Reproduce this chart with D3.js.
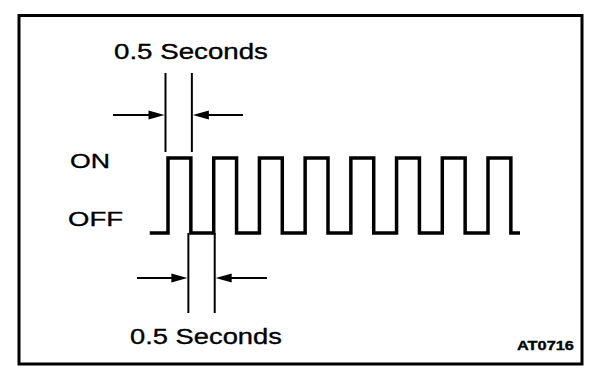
<!DOCTYPE html>
<html>
<head>
<meta charset="utf-8">
<script src="https://cdn.jsdelivr.net/npm/d3@7"></script>
<style>
    html, body { margin: 0; padding: 0; background: #fff; }
    svg text { font-family: "Liberation Sans", Arial, Helvetica, sans-serif; fill: #000; stroke: #000; stroke-width: 0.35; }
</style>
</head>
<body>
<div id="chart"></div>
<script>
// signal levels and switching times (seconds)
var levels = ["OFF", "ON"];
var onTimes = [0, 1, 2, 3, 4, 5, 6, 7];
var offTimes = [0.5, 1.5, 2.5, 3.5, 4.5, 5.5, 6.5, 7.5];
var traceSpan = [-0.4, 7.7];
var periodLabel = "0.5 Seconds";
var figureCode = "AT0716";

var width = 608,
    height = 382;

var svg = d3.select("#chart").append("svg")
    .attr("width", width)
    .attr("height", height);

// frame
svg.append("rect")
    .attr("x", 19)
    .attr("y", 15.5)
    .attr("width", 563)
    .attr("height", 348.5)
    .attr("fill", "#fff")
    .attr("stroke", "#000")
    .attr("stroke-width", 3);

// scales
var x = d3.scaleLinear()
    .domain([0, 7])
    .range([168, 488]);

var y = d3.scalePoint()
    .domain(levels)
    .range([233, 158]);

// build the square wave from the switching times
var pts = [[traceSpan[0], "OFF"]];
onTimes.forEach(function (t, i) {
    pts.push([t, "OFF"], [t, "ON"]);
    pts.push([offTimes[i], "ON"], [offTimes[i], "OFF"]);
});
pts.push([traceSpan[1], "OFF"]);

var line = d3.line()
    .x(function (d) { return x(d[0]); })
    .y(function (d) { return y(d[1]); });

svg.append("path")
    .datum(pts)
    .attr("d", line)
    .attr("fill", "none")
    .attr("stroke", "#000")
    .attr("stroke-width", 3.5)
    .attr("stroke-linejoin", "miter");

// text stretched sideways to the width it has in the drawing
function wideText(str, tx, ty, size, w, bold) {
    var t = svg.append("text")
        .attr("font-size", size)
        .attr("font-weight", bold ? "bold" : "normal")
        .text(str);
    var natural = t.node().getComputedTextLength();
    t.attr("transform", "translate(" + tx + "," + ty + ") scale(" + (w / natural) + ",1)");
    return t;
}

// level labels
wideText("ON", 70, y("ON") + 10, 21, 40);
wideText("OFF", 68, y("OFF") - 7, 21, 55);

// dimension markers
function arrowHead(tipX, yy, dir) {
    // dir = 1 pointing right, -1 pointing left
    var len = 16, half = 4.5;
    svg.append("path")
        .attr("d", "M" + tipX + "," + yy +
            "L" + (tipX - dir * len) + "," + (yy - half) +
            "L" + (tipX - dir * len) + "," + (yy + half) + "Z")
        .attr("fill", "#000");
}

function dimension(xa, xb, y0, y1, ya, leftStart, rightEnd) {
    svg.append("line")
        .attr("x1", xa).attr("x2", xa).attr("y1", y0).attr("y2", y1)
        .attr("stroke", "#000").attr("stroke-width", 2);
    svg.append("line")
        .attr("x1", xb).attr("x2", xb).attr("y1", y0).attr("y2", y1)
        .attr("stroke", "#000").attr("stroke-width", 2);
    svg.append("line")
        .attr("x1", leftStart).attr("x2", xa - 6).attr("y1", ya).attr("y2", ya)
        .attr("stroke", "#000").attr("stroke-width", 2);
    svg.append("line")
        .attr("x1", xb + 6).attr("x2", rightEnd).attr("y1", ya).attr("y2", ya)
        .attr("stroke", "#000").attr("stroke-width", 2);
    arrowHead(xa - 1, ya, 1);
    arrowHead(xb + 1, ya, -1);
}

// top: width of an ON pulse
dimension(x(onTimes[0]) - 2.5, x(offTimes[0]) + 1, 73, 152, 115, 113, 243);
// bottom: width of an OFF gap
dimension(x(offTimes[0]) - 2.5, x(onTimes[1]) + 1, 233, 313, 278, 137, 267);

wideText(periodLabel, 114, 59, 22, 154);
wideText(periodLabel, 130, 344, 22, 152);
wideText(figureCode, 517, 350, 12.5, 57, true);
</script>
</body>
</html>
